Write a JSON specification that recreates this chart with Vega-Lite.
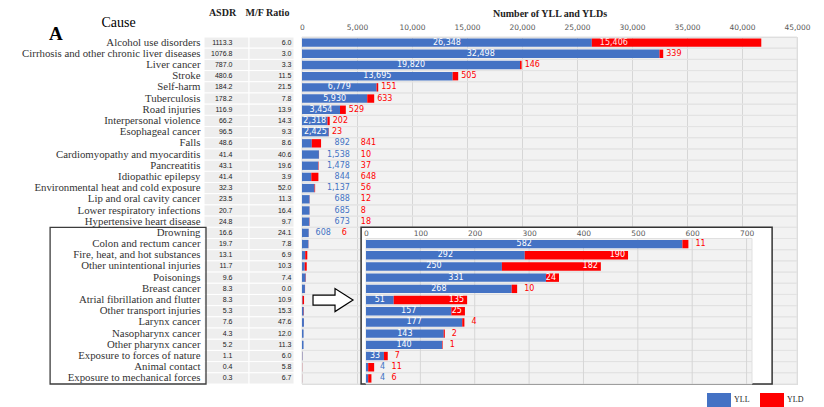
{
 "$schema": "https://vega.github.io/schema/vega-lite/v6.json",
 "width": 495, "height": 347,
 "autosize": "none",
 "padding": {"left": 302, "top": 37, "right": 27, "bottom": 23},
 "background": "white",
 "title": {"text": "A", "anchor": "start", "frame": "group", "font": "Liberation Serif", "fontSize": 19, "fontWeight": "bold", "color": "black", "baseline": "top", "offset": 0, "dx": -253, "dy": 37},
 "data": {"values": [
  {"cause": "Alcohol use disorders", "ASDR": 1113.3, "M/F Ratio": 6.0, "YLL": 26348, "YLD": 15406},
  {"cause": "Cirrhosis and other chronic liver diseases", "ASDR": 1076.8, "M/F Ratio": 3.0, "YLL": 32498, "YLD": 339},
  {"cause": "Liver cancer", "ASDR": 787.0, "M/F Ratio": 3.3, "YLL": 19820, "YLD": 146},
  {"cause": "Stroke", "ASDR": 480.6, "M/F Ratio": 11.5, "YLL": 13695, "YLD": 505},
  {"cause": "Self-harm", "ASDR": 184.2, "M/F Ratio": 21.5, "YLL": 6779, "YLD": 151},
  {"cause": "Tuberculosis", "ASDR": 178.2, "M/F Ratio": 7.8, "YLL": 5930, "YLD": 633},
  {"cause": "Road injuries", "ASDR": 116.9, "M/F Ratio": 13.9, "YLL": 3454, "YLD": 529},
  {"cause": "Interpersonal violence", "ASDR": 66.2, "M/F Ratio": 14.3, "YLL": 2318, "YLD": 202},
  {"cause": "Esophageal cancer", "ASDR": 96.5, "M/F Ratio": 9.3, "YLL": 2425, "YLD": 23},
  {"cause": "Falls", "ASDR": 48.6, "M/F Ratio": 8.6, "YLL": 892, "YLD": 841},
  {"cause": "Cardiomyopathy and myocarditis", "ASDR": 41.4, "M/F Ratio": 40.6, "YLL": 1538, "YLD": 10},
  {"cause": "Pancreatitis", "ASDR": 43.1, "M/F Ratio": 19.6, "YLL": 1478, "YLD": 37},
  {"cause": "Idiopathic epilepsy", "ASDR": 41.4, "M/F Ratio": 3.9, "YLL": 844, "YLD": 648},
  {"cause": "Environmental heat and cold exposure", "ASDR": 32.3, "M/F Ratio": 52.0, "YLL": 1137, "YLD": 56},
  {"cause": "Lip and oral cavity cancer", "ASDR": 23.5, "M/F Ratio": 11.3, "YLL": 688, "YLD": 12},
  {"cause": "Lower respiratory infections", "ASDR": 20.7, "M/F Ratio": 16.4, "YLL": 685, "YLD": 8},
  {"cause": "Hypertensive heart disease", "ASDR": 24.8, "M/F Ratio": 9.7, "YLL": 673, "YLD": 18},
  {"cause": "Drowning", "ASDR": 16.6, "M/F Ratio": 24.1, "YLL": 608, "YLD": 6},
  {"cause": "Colon and rectum cancer", "ASDR": 19.7, "M/F Ratio": 7.8, "YLL": 582, "YLD": 11},
  {"cause": "Fire, heat, and hot substances", "ASDR": 13.1, "M/F Ratio": 6.9, "YLL": 292, "YLD": 190},
  {"cause": "Other unintentional injuries", "ASDR": 11.7, "M/F Ratio": 10.3, "YLL": 250, "YLD": 182},
  {"cause": "Poisonings", "ASDR": 9.6, "M/F Ratio": 7.4, "YLL": 331, "YLD": 24},
  {"cause": "Breast cancer", "ASDR": 8.3, "M/F Ratio": 0.0, "YLL": 268, "YLD": 10},
  {"cause": "Atrial fibrillation and flutter", "ASDR": 8.3, "M/F Ratio": 10.9, "YLL": 51, "YLD": 135},
  {"cause": "Other transport injuries", "ASDR": 5.3, "M/F Ratio": 15.3, "YLL": 157, "YLD": 25},
  {"cause": "Larynx cancer", "ASDR": 7.6, "M/F Ratio": 47.6, "YLL": 177, "YLD": 4},
  {"cause": "Nasopharynx cancer", "ASDR": 4.3, "M/F Ratio": 12.0, "YLL": 143, "YLD": 2},
  {"cause": "Other pharynx cancer", "ASDR": 5.2, "M/F Ratio": 11.3, "YLL": 140, "YLD": 1},
  {"cause": "Exposure to forces of nature", "ASDR": 1.1, "M/F Ratio": 6.0, "YLL": 33, "YLD": 7},
  {"cause": "Animal contact", "ASDR": 0.4, "M/F Ratio": 5.8, "YLL": 4, "YLD": 11},
  {"cause": "Exposure to mechanical forces", "ASDR": 0.3, "M/F Ratio": 6.7, "YLL": 4, "YLD": 6}
 ]},
 "encoding": {
  "y": {"field": "cause", "type": "nominal",
   "scale": {"domain": ["Alcohol use disorders","Cirrhosis and other chronic liver diseases","Liver cancer","Stroke","Self-harm","Tuberculosis","Road injuries","Interpersonal violence","Esophageal cancer","Falls","Cardiomyopathy and myocarditis","Pancreatitis","Idiopathic epilepsy","Environmental heat and cold exposure","Lip and oral cavity cancer","Lower respiratory infections","Hypertensive heart disease","Drowning","Colon and rectum cancer","Fire, heat, and hot substances","Other unintentional injuries","Poisonings","Breast cancer","Atrial fibrillation and flutter","Other transport injuries","Larynx cancer","Nasopharynx cancer","Other pharynx cancer","Exposure to forces of nature","Animal contact","Exposure to mechanical forces"], "paddingInner": 0, "paddingOuter": 0},
   "axis": {"orient": "left", "offset": 102, "domain": false, "ticks": false, "tickSize": 0, "labelPadding": 0, "grid": false, "labelFont": "Liberation Serif", "labelFontSize": 10.8, "labelColor": "#333333", "labelLimit": 300, "title": "Cause", "titleFont": "Liberation Serif", "titleFontSize": 14, "titleFontWeight": "normal", "titleColor": "black", "titleAngle": 0, "titleAlign": "center", "titleBaseline": "middle", "titleX": -82, "titleY": -15}}
 },
 "layer": [
  {"layer": [
   {"transform": [{"fold": ["ASDR", "M/F Ratio"], "as": ["col", "val"]}],
    "mark": {"type": "rect", "fill": "#eeeeee", "stroke": "white", "strokeWidth": 1},
    "encoding": {"x": {"field": "col", "type": "nominal", "scale": {"domain": ["ASDR", "M/F Ratio"], "range": [-98, -8], "paddingInner": 0, "paddingOuter": 0},
      "axis": {"orient": "top", "offset": 20, "domain": false, "ticks": false, "tickSize": 0, "labelPadding": 0, "grid": false, "labelAlign": "center", "labelOffset": -4, "labelAngle": 0, "labelFont": "Liberation Serif", "labelFontSize": 10, "labelFontWeight": "bold", "labelColor": "#222222", "title": null}}}},
   {"mark": {"type": "text", "align": "right", "dx": 6, "font": "Liberation Sans", "fontSize": 7, "color": "#222222"},
    "encoding": {"x": {"datum": "ASDR", "type": "nominal"}, "text": {"field": "ASDR", "type": "quantitative", "format": ".1f"}}},
   {"mark": {"type": "text", "align": "right", "dx": 20, "font": "Liberation Sans", "fontSize": 7, "color": "#222222"},
    "encoding": {"x": {"datum": "M/F Ratio", "type": "nominal"}, "text": {"field": "M/F Ratio", "type": "quantitative", "format": ".1f"}}}
  ]},
  {"layer": [
   {"mark": {"type": "rect", "fill": "transparent", "stroke": "#e3e3e3", "strokeWidth": 1},
    "encoding": {"x": {"datum": 0, "type": "quantitative"}, "x2": {"datum": 45000}}},
   {"transform": [{"fold": ["YLL", "YLD"], "as": ["type", "value"]}],
    "mark": {"type": "bar", "height": {"band": 0.75}},
    "encoding": {
     "x": {"field": "value", "type": "quantitative", "stack": "zero", "scale": {"domain": [0, 45000], "nice": false},
      "axis": {"orient": "top", "values": [0,5000,10000,15000,20000,25000,30000,35000,40000,45000], "format": ",d", "grid": true, "gridColor": "#d6d6d6", "gridWidth": 1, "domain": false, "ticks": false, "tickSize": 0, "labelPadding": 6, "labelFlush": false, "labelFont": "DejaVu Sans", "labelFontSize": 7.5, "labelColor": "#595959", "title": "Number of YLL and YLDs", "titleFont": "Liberation Serif", "titleFontSize": 10, "titleFontWeight": "bold", "titleColor": "#222222", "titlePadding": 5}},
     "color": {"field": "type", "type": "nominal", "scale": {"domain": ["YLL", "YLD"], "range": ["#4472C4", "#FF0000"]},
      "legend": {"title": null, "orient": "none", "legendX": 405, "legendY": 351, "direction": "horizontal", "symbolType": "M-1,-0.583H1V0.583H-1Z", "symbolSize": 576, "symbolStrokeWidth": 0, "labelFont": "Liberation Serif", "labelFontSize": 8, "labelColor": "#222222", "labelOffset": 3, "columnPadding": 10}},
     "order": {"field": "type", "sort": "descending"}}},
   {"transform": [{"fold": ["YLL", "YLD"], "as": ["type", "value"]}],
    "mark": {"type": "text", "color": "white", "font": "DejaVu Sans", "fontSize": 8},
    "encoding": {"x": {"field": "value", "type": "quantitative", "stack": "zero", "bandPosition": 0.5}, "detail": {"field": "type"}, "order": {"field": "type", "sort": "descending"},
     "text": {"condition": {"test": "datum.type === 'YLL' && datum.YLL > 2000", "field": "value", "type": "quantitative", "format": ","}, "value": ""}}},
   {"transform": [{"fold": ["YLL", "YLD"], "as": ["type", "value"]}],
    "mark": {"type": "text", "color": "#FF0000", "align": "left", "dx": 3, "font": "DejaVu Sans", "fontSize": 8},
    "encoding": {"x": {"field": "value", "type": "quantitative", "stack": "zero"}, "detail": {"field": "type"}, "order": {"field": "type", "sort": "descending"},
     "text": {"condition": {"test": "datum.type === 'YLD' && datum.YLL > 2000 && datum.YLD < 1000", "field": "value", "type": "quantitative", "format": ","}, "value": ""}}},
   {"transform": [{"fold": ["YLL", "YLD"], "as": ["type", "value"]}],
    "mark": {"type": "text", "color": "#ffe8e8", "align": "left", "dx": 8, "font": "DejaVu Sans", "fontSize": 8},
    "encoding": {"x": {"field": "value", "type": "quantitative", "stack": "zero", "bandPosition": 0}, "detail": {"field": "type"}, "order": {"field": "type", "sort": "descending"},
     "text": {"condition": {"test": "datum.type === 'YLD' && datum.YLD >= 1000", "field": "value", "type": "quantitative", "format": ","}, "value": ""}}},
   {"transform": [{"filter": "datum.YLL >= 600 && datum.YLL <= 2000 && datum.cause !== 'Drowning'"}],
    "mark": {"type": "text", "align": "right", "color": "#4472C4", "font": "DejaVu Sans", "fontSize": 8},
    "encoding": {"x": {"datum": 4350, "type": "quantitative"}, "text": {"field": "YLL", "type": "quantitative", "format": ","}}},
   {"transform": [{"filter": "datum.YLL >= 600 && datum.YLL <= 2000 && datum.cause !== 'Drowning'"}],
    "mark": {"type": "text", "align": "left", "color": "#FF0000", "font": "DejaVu Sans", "fontSize": 8},
    "encoding": {"x": {"datum": 5350, "type": "quantitative"}, "text": {"field": "YLD", "type": "quantitative", "format": ","}}},
   {"transform": [{"filter": "datum.cause === 'Drowning'"}],
    "mark": {"type": "text", "align": "right", "color": "#4472C4", "font": "DejaVu Sans", "fontSize": 8},
    "encoding": {"x": {"datum": 2620, "type": "quantitative"}, "text": {"field": "YLL", "type": "quantitative", "format": ","}}},
   {"transform": [{"filter": "datum.cause === 'Drowning'"}],
    "mark": {"type": "text", "align": "left", "color": "#FF0000", "font": "DejaVu Sans", "fontSize": 8},
    "encoding": {"x": {"datum": 3620, "type": "quantitative"}, "text": {"field": "YLD", "type": "quantitative", "format": ","}}},
   {"data": {"values": [{}]},
    "mark": {"type": "rect", "fill": "transparent", "stroke": "#3c3c3c", "strokeWidth": 1.3},
    "encoding": {"x": {"datum": -22900, "type": "quantitative"}, "x2": {"datum": -8727},
     "y": {"datum": "Drowning", "type": "nominal", "bandPosition": 0}, "y2": {"datum": "Exposure to mechanical forces", "bandPosition": 1}}},
   {"data": {"values": [{}]},
    "mark": {"type": "point", "shape": "M-1,-0.25H0.1V-0.575L1,0L0.1,0.575V0.25H-1Z", "size": 1600, "filled": true, "fill": "white", "stroke": "black", "strokeWidth": 1.2, "opacity": 1},
    "encoding": {"x": {"datum": 2820, "type": "quantitative"}, "y": {"datum": "Atrial fibrillation and flutter", "type": "nominal"}}}
  ]},
  {"layer": [
   {"data": {"values": [{}]},
    "mark": {"type": "rect", "fill": "white", "stroke": "#333333", "strokeWidth": 1.5},
    "encoding": {"x": {"datum": -9, "type": "quantitative"}, "x2": {"datum": 747},
     "y": {"datum": "Drowning", "type": "nominal", "bandPosition": 0}, "y2": {"datum": "Exposure to mechanical forces", "bandPosition": 1}}},
   {"transform": [{"filter": "datum.YLL < 600"}],
    "mark": {"type": "rect", "fill": "#f2f2f2", "stroke": "#e0e0e0", "strokeWidth": 1},
    "encoding": {"x": {"datum": 0, "type": "quantitative"}, "x2": {"datum": 710}}},
   {"data": {"values": [{"t": 100}, {"t": 200}, {"t": 300}, {"t": 400}, {"t": 500}, {"t": 600}, {"t": 700}]},
    "mark": {"type": "rule", "color": "#d6d6d6", "strokeWidth": 1},
    "encoding": {"x": {"field": "t", "type": "quantitative"},
     "y": {"datum": "Colon and rectum cancer", "type": "nominal", "bandPosition": 0}, "y2": {"datum": "Exposure to mechanical forces", "bandPosition": 1}}},
   {"transform": [{"filter": "datum.YLL < 600"}, {"fold": ["YLL", "YLD"], "as": ["type", "value"]}],
    "mark": {"type": "bar", "height": {"band": 0.75}},
    "encoding": {
     "x": {"field": "value", "type": "quantitative", "stack": "zero", "scale": {"domain": [0, 710], "range": [64, 450], "nice": false},
      "axis": {"orient": "top", "offset": -200, "values": [0,100,200,300,400,500,600,700], "format": "d", "grid": false, "domain": false, "ticks": false, "tickSize": 0, "labelPadding": 0, "labelFlush": false, "labelFont": "DejaVu Sans", "labelFontSize": 7.5, "labelColor": "#595959", "title": null, "zindex": 1}},
     "color": {"field": "type", "type": "nominal"},
     "order": {"field": "type", "sort": "descending"}}},
   {"transform": [{"filter": "datum.YLL < 600"}, {"fold": ["YLL", "YLD"], "as": ["type", "value"]}],
    "mark": {"type": "text", "color": "white", "font": "DejaVu Sans", "fontSize": 8},
    "encoding": {"x": {"field": "value", "type": "quantitative", "stack": "zero", "bandPosition": 0.5}, "detail": {"field": "type"}, "order": {"field": "type", "sort": "descending"},
     "text": {"condition": {"test": "datum.type === 'YLL' && datum.YLL >= 30", "field": "value", "type": "quantitative", "format": ","}, "value": ""}}},
   {"transform": [{"filter": "datum.YLL < 600"}, {"fold": ["YLL", "YLD"], "as": ["type", "value"]}],
    "mark": {"type": "text", "color": "white", "align": "right", "dx": -3, "font": "DejaVu Sans", "fontSize": 8},
    "encoding": {"x": {"field": "value", "type": "quantitative", "stack": "zero"}, "detail": {"field": "type"}, "order": {"field": "type", "sort": "descending"},
     "text": {"condition": {"test": "datum.type === 'YLD' && datum.YLD >= 20 && datum.YLL >= 30", "field": "value", "type": "quantitative", "format": ","}, "value": ""}}},
   {"transform": [{"filter": "datum.YLL < 600"}, {"fold": ["YLL", "YLD"], "as": ["type", "value"]}],
    "mark": {"type": "text", "color": "#FF0000", "align": "left", "dx": 7, "font": "DejaVu Sans", "fontSize": 8},
    "encoding": {"x": {"field": "value", "type": "quantitative", "stack": "zero"}, "detail": {"field": "type"}, "order": {"field": "type", "sort": "descending"},
     "text": {"condition": {"test": "datum.type === 'YLD' && datum.YLD < 20 && datum.YLL >= 30", "field": "value", "type": "quantitative", "format": ","}, "value": ""}}},
   {"transform": [{"filter": "datum.YLL < 30"}],
    "mark": {"type": "text", "align": "right", "color": "#4472C4", "font": "DejaVu Sans", "fontSize": 8},
    "encoding": {"x": {"datum": 35, "type": "quantitative"}, "text": {"field": "YLL", "type": "quantitative", "format": ","}}},
   {"transform": [{"filter": "datum.YLL < 30"}],
    "mark": {"type": "text", "align": "left", "color": "#FF0000", "font": "DejaVu Sans", "fontSize": 8},
    "encoding": {"x": {"datum": 47, "type": "quantitative"}, "text": {"field": "YLD", "type": "quantitative", "format": ","}}}
  ]}
 ],
 "resolve": {"scale": {"x": "independent"}, "axis": {"x": "independent"}},
 "config": {"view": {"fill": "#f2f2f2", "stroke": "#d9d9d9"}}
}
